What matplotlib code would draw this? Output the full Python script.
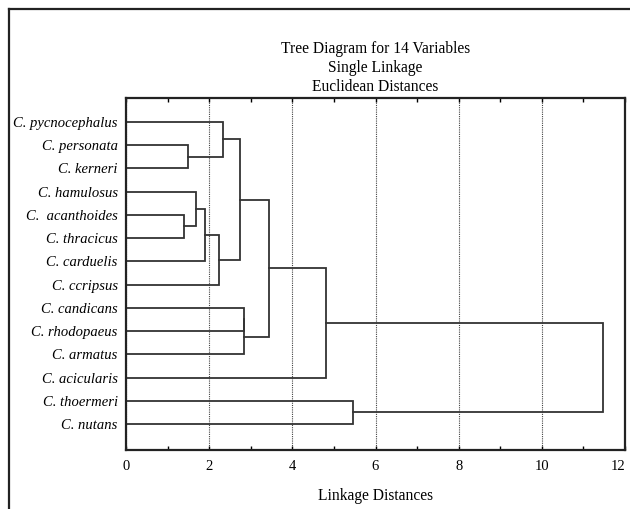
import matplotlib.pyplot as plt
from matplotlib.lines import Line2D

plt.rcParams['font.family'] = ['Liberation Serif', 'DejaVu Serif']

species = ["C. pycnocephalus", "C. personata", "C. kerneri", "C. hamulosus",
           "C.  acanthoides", "C. thracicus", "C. carduelis", "C. ccripsus",
           "C. candicans", "C. rhodopaeus", "C. armatus", "C. acicularis",
           "C. thoermeri", "C. nutans"]

# joins in order; ids 14.. refer to the clusters made by earlier joins
join_a = [4, 1, 3, 16, 17, 0, 19, 8, 21, 20, 23, 12, 24]
join_b = [5, 2, 14, 6, 7, 15, 18, 9, 10, 22, 11, 13, 25]
join_dist = [1.39, 1.50, 1.68, 1.90, 2.23, 2.33, 2.75, 2.84, 2.84, 3.45, 4.80, 5.45, 11.46]

fig = plt.figure(figsize=(6.3, 5.09), dpi=100)
ax = fig.add_axes([126/630, 1 - 450/509, 499/630, 352/509])

# position of every node: leaves at x=0, clusters at their join distance
node_x = [0.0] * len(species)
node_y = list(range(len(species)))
for a, b, d in zip(join_a, join_b, join_dist):
    ax.plot([node_x[a], d, d, node_x[b]], [node_y[a], node_y[a], node_y[b], node_y[b]],
            color='#333333', lw=1.3, solid_joinstyle='miter')
    node_x.append(d)
    node_y.append((node_y[a] + node_y[b]) / 2)

ax.set_xlim(0, 12)
ax.set_ylim(len(species) - 1 + 1.12, -1.03)
ax.set_yticks(range(len(species)))
ax.set_yticklabels(species, style='italic', fontsize=10.5)
ax.tick_params(axis='y', length=0, pad=6)
ax.set_xticks(range(0, 13, 2))
ax.set_xticks(range(1, 12, 2), minor=True)
ax.tick_params(axis='x', which='both', direction='in', top=True, length=3,
               width=1, labelsize=10.5, pad=7)
ax.get_xticklabels()[-1].set_horizontalalignment('right')
ax.grid(axis='x', which='major', linestyle=(0, (1, 1)), color='#444444', lw=0.8)
for s in ax.spines.values():
    s.set_linewidth(1.6)
    s.set_color('#222222')

ax.set_xlabel('Linkage Distances', fontsize=11.2, labelpad=11)
ax.set_title('Tree Diagram for 14 Variables\nSingle Linkage\nEuclidean Distances',
             fontsize=11.2, linespacing=1.25, pad=5)

# outer frame (left and top edges only)
fig.add_artist(Line2D([9/630, 9/630], [0, 1 - 9/509], color='#222222', lw=1.6))
fig.add_artist(Line2D([9/630, 1], [1 - 9/509, 1 - 9/509], color='#222222', lw=1.6))

fig.savefig('out.png', dpi=100)
